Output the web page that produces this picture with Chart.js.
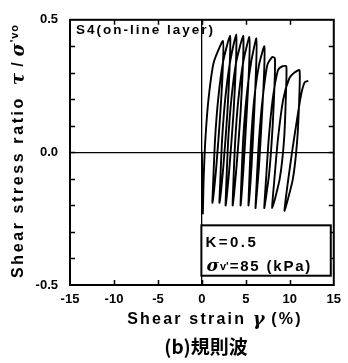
<!DOCTYPE html>
<html>
<head>
<meta charset="utf-8">
<script src="https://cdn.jsdelivr.net/npm/chart.js@4"></script>
<style>
html,body{margin:0;padding:0;background:#fff;}
canvas{display:block;}
</style>
</head>
<body>
<canvas id="c" width="348" height="363"></canvas>
<script>
// Shear strain (%) along the recorded path
const strain = [
  0.0, 0.1,
  0.2, 0.4, 0.75, 1.35, 2.4,   2.38, 2.1, 1.65, 1.2,
  1.3, 1.5, 1.85, 2.4, 3.2,    3.18, 2.9, 2.45, 2.0,
  2.1, 2.3, 2.65, 3.2, 3.9,    3.88, 3.6, 3.15, 2.7,
  2.8, 3.0, 3.35, 3.9, 4.7,    4.68, 4.4, 3.95, 3.5,
  3.6, 3.8, 4.15, 4.7, 5.4,    5.38, 5.1, 4.75, 4.4,
  4.5, 4.7, 5.05, 5.6, 6.2,    6.18, 5.95, 5.65, 5.3,
  5.4, 5.6, 5.95, 6.5, 7.1,    7.08, 6.85, 6.5, 6.1,
  6.25, 6.5, 6.9, 7.45, 8.0, 8.3,    8.28, 8.05, 7.65, 7.1,
  7.3, 7.6, 8.05, 8.65, 9.2, 9.6,    9.58, 9.35, 8.85, 8.0,
  8.25, 8.65, 9.25, 9.95, 10.5, 11.1,  11.08, 10.85, 10.35, 9.4,
  9.75, 10.25, 10.8, 11.3, 11.7, 12.1
];
// Shear stress ratio tau/sigma'vo along the same path
const stress = [
  0.0, -0.23,
  -0.1, 0.05, 0.2, 0.34, 0.42,   0.32, 0.15, -0.05, -0.19,
  -0.1, 0.05, 0.2, 0.34, 0.44,   0.34, 0.15, -0.05, -0.19,
  -0.1, 0.05, 0.2, 0.34, 0.445,  0.34, 0.15, -0.05, -0.2,
  -0.1, 0.05, 0.2, 0.34, 0.44,   0.34, 0.15, -0.05, -0.2,
  -0.1, 0.05, 0.2, 0.34, 0.435,  0.33, 0.15, -0.05, -0.2,
  -0.1, 0.05, 0.2, 0.34, 0.43,   0.33, 0.15, -0.05, -0.2,
  -0.1, 0.05, 0.2, 0.33, 0.40,   0.3, 0.15, -0.05, -0.21,
  -0.1, 0.05, 0.2, 0.33, 0.36, 0.355,   0.27, 0.1, -0.08, -0.21,
  -0.1, 0.05, 0.2, 0.31, 0.325, 0.325,  0.24, 0.05, -0.1, -0.21,
  -0.1, 0.05, 0.2, 0.28, 0.3, 0.31,     0.21, 0.05, -0.1, -0.22,
  -0.12, 0.0, 0.12, 0.22, 0.265, 0.27
];
const xTickValues = [-15, -10, -5, 0, 5, 10, 15];
const xTickLabels = ['-15', '-10', '-5', '0', '5', '10', '15'];
const yTickValues = [-0.5, 0.0, 0.5];
const yTickLabels = ['-0.5', '0.0', '0.5'];
const yMinorTicks = [-0.4, -0.3, -0.2, -0.1, 0.0, 0.1, 0.2, 0.3, 0.4];
const xMinorTicks = [-10, -5, 0, 5, 10];
const panelLabel = 'S4(on-line layer)';
const captionText = '(b)規則波';

const points = strain.map((x, i) => ({x: x, y: stress[i]}));
const near = (a, b) => Math.abs(a - b) < 1e-6;
const SANS = '"Liberation Sans", Arial, sans-serif';
const GREEK = '"DejaVu Serif", serif';

const decor = {
  id: 'decor',
  afterDraw(chart) {
    const ctx = chart.ctx;
    const a = chart.chartArea;
    const xs = chart.scales.x, ys = chart.scales.y;
    ctx.save();
    ctx.strokeStyle = '#000';
    ctx.fillStyle = '#000';
    // frame
    ctx.lineWidth = 2;
    ctx.strokeRect(a.left, a.top, a.right - a.left, a.bottom - a.top);
    // inner ticks
    ctx.lineWidth = 1.5;
    ctx.beginPath();
    yMinorTicks.forEach(v => {
      const py = Math.round(ys.getPixelForValue(v)) + 0.5;
      ctx.moveTo(a.left, py); ctx.lineTo(a.left + 5, py);
      ctx.moveTo(a.right, py); ctx.lineTo(a.right - 5, py);
    });
    xMinorTicks.forEach(v => {
      const px = Math.round(xs.getPixelForValue(v)) + 0.5;
      ctx.moveTo(px, a.bottom); ctx.lineTo(px, a.bottom - 5);
      ctx.moveTo(px, a.top); ctx.lineTo(px, a.top + 5);
    });
    ctx.stroke();

    // panel label
    ctx.font = 'bold 13.5px ' + SANS;
    ctx.letterSpacing = '2px';
    ctx.textBaseline = 'alphabetic';
    ctx.textAlign = 'left';
    ctx.fillText(panelLabel, a.left + 6, a.top + 14);

    // legend box
    const bx0 = xs.getPixelForValue(0) - 0.5, bx1 = a.right - 3;
    const by0 = ys.getPixelForValue(-0.275), by1 = ys.getPixelForValue(-0.465);
    ctx.fillStyle = '#fff';
    ctx.fillRect(bx0, by0, bx1 - bx0, by1 - by0);
    ctx.lineWidth = 2;
    ctx.strokeRect(bx0, by0, bx1 - bx0, by1 - by0);
    ctx.fillStyle = '#000';
    ctx.font = 'bold 15px ' + SANS;
    ctx.letterSpacing = '2.5px';
    ctx.fillText('K=0.5', bx0 + 4, by0 + 22);
    let x = bx0 + 5;
    const yb = by0 + 46;
    ctx.letterSpacing = '0px';
    ctx.font = 'italic bold 17px ' + GREEK;
    ctx.fillText('σ', x, yb); x += ctx.measureText('σ').width + 1;
    ctx.font = 'bold 11px ' + SANS;
    ctx.fillText("v'", x, yb - 1); x += ctx.measureText("v'").width + 1;
    ctx.font = 'bold 15px ' + SANS;
    ctx.letterSpacing = '1.8px';
    ctx.fillText('=85 (kPa)', x, yb);

    // y title (rotated)
    ctx.save();
    ctx.translate(19, 151);
    ctx.rotate(-Math.PI / 2);
    ctx.textBaseline = 'middle';
    let t = -127;
    ctx.font = 'bold 16px ' + SANS;
    ctx.letterSpacing = '2.6px';
    const s1 = 'Shear stress ratio ';
    ctx.fillText(s1, t, 0); t += ctx.measureText(s1).width + 4;
    ctx.letterSpacing = '0px';
    ctx.font = 'italic bold 18px ' + GREEK;
    ctx.fillText('τ', t, 0); t += ctx.measureText('τ').width + 6;
    ctx.font = 'bold 16px ' + SANS;
    ctx.fillText('/', t, 0); t += ctx.measureText('/').width + 6;
    ctx.font = 'italic bold 18px ' + GREEK;
    ctx.fillText('σ', t, 0); t += ctx.measureText('σ').width + 1;
    ctx.font = 'bold 11px ' + SANS;
    ctx.letterSpacing = '0.8px';
    ctx.fillText("'vo", t, -4);
    ctx.restore();

    // x title
    ctx.textBaseline = 'middle';
    ctx.font = 'bold 16px ' + SANS;
    ctx.letterSpacing = '2.2px';
    const p1 = 'Shear strain ';
    const p3 = ' (%)';
    const w1 = ctx.measureText(p1).width;
    const w3 = ctx.measureText(p3).width;
    ctx.font = 'italic bold 18px ' + GREEK;
    ctx.letterSpacing = '0px';
    const w2 = ctx.measureText('γ').width;
    let cx = 215 - (w1 + w2 + w3) / 2;
    const ty = 320;
    ctx.font = 'bold 16px ' + SANS;
    ctx.letterSpacing = '2.2px';
    ctx.fillText(p1, cx, ty); cx += w1;
    ctx.font = 'italic bold 18px ' + GREEK;
    ctx.letterSpacing = '0px';
    ctx.fillText('γ', cx, ty); cx += w2;
    ctx.font = 'bold 16px ' + SANS;
    ctx.letterSpacing = '2.2px';
    ctx.fillText(p3, cx, ty);

    // caption
    ctx.letterSpacing = '0px';
    ctx.textAlign = 'center';
    ctx.font = 'bold 19px "Noto Sans CJK JP", sans-serif';
    ctx.fillText(captionText, 206, 347);
    ctx.restore();
  }
};

new Chart(document.getElementById('c'), {
  type: 'scatter',
  data: {
    datasets: [{
      data: points,
      showLine: true,
      borderColor: '#000',
      borderWidth: 1.9,
      pointRadius: 0,
      tension: 0.2,
      fill: false
    }]
  },
  options: {
    responsive: false,
    animation: false,
    events: [],
    layout: {padding: {top: 13, right: 11, left: 0, bottom: 0}},
    plugins: {legend: {display: false}, tooltip: {enabled: false}},
    scales: {
      x: {
        type: 'linear', min: -15, max: 15,
        afterFit: s => { s.height = 78; },
        afterBuildTicks: s => { s.ticks = xTickValues.map(v => ({value: v})); },
        ticks: {
          color: '#000', padding: 7, maxRotation: 0, autoSkip: false,
          font: {family: SANS, size: 13, weight: 'bold'},
          callback: v => { const i = xTickValues.findIndex(t => near(t, v)); return i >= 0 ? xTickLabels[i] : ''; }
        },
        grid: {drawTicks: false, lineWidth: 1.3, color: c => (c.tick && near(c.tick.value, 0)) ? '#000' : 'rgba(0,0,0,0)'},
        border: {display: false}
      },
      y: {
        type: 'linear', min: -0.5, max: 0.5,
        afterFit: s => { s.width = 70; },
        afterBuildTicks: s => { s.ticks = yTickValues.map(v => ({value: v})); },
        ticks: {
          color: '#000', padding: 12, autoSkip: false,
          font: {family: SANS, size: 13, weight: 'bold'},
          callback: v => { const i = yTickValues.findIndex(t => near(t, v)); return i >= 0 ? yTickLabels[i] : ''; }
        },
        grid: {drawTicks: false, lineWidth: 1.3, color: c => (c.tick && near(c.tick.value, 0)) ? '#000' : 'rgba(0,0,0,0)'},
        border: {display: false}
      }
    }
  },
  plugins: [decor]
});
</script>
</body>
</html>
